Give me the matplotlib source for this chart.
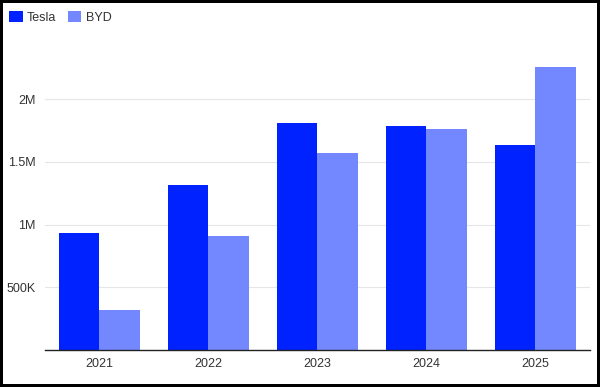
import numpy as np
import matplotlib.pyplot as plt
from matplotlib.ticker import FuncFormatter

plt.rcParams['font.family'] = ['Liberation Sans', 'DejaVu Sans']

# deliveries per year
years = ['2021', '2022', '2023', '2024', '2025']
tesla = [936000, 1313000, 1809000, 1789000, 1636000]
byd = [320000, 911000, 1574000, 1765000, 2257000]

tesla_color = '#0022ff'
byd_color = '#7388ff'
text_color = '#333333'

fig = plt.figure(figsize=(6, 3.87), dpi=100)
fig.patch.set_edgecolor('black')
fig.patch.set_linewidth(3)

ax = fig.add_axes([0.075, 0.0956, 0.908, 0.778])

x = np.arange(len(years))
w = 0.37
ax.bar(x - w / 2, tesla, width=w, color=tesla_color, label='Tesla')
ax.bar(x + w / 2, byd, width=w, color=byd_color, label='BYD')

ax.set_xlim(-0.5, len(years) - 0.5)
ax.set_ylim(0, 2400000)
ax.set_xticks(x)
ax.set_xticklabels(years)
ax.set_yticks([500000, 1000000, 1500000, 2000000])


def fmt(v, pos):
    if v >= 1000000:
        s = f'{v / 1000000:g}M'
    else:
        s = f'{v / 1000:g}K'
    return s


ax.yaxis.set_major_formatter(FuncFormatter(fmt))
ax.tick_params(axis='both', length=0, labelsize=9, colors=text_color)
ax.tick_params(axis='x', pad=6)
ax.tick_params(axis='y', pad=7)

ax.grid(axis='y', color='#e6e6e6', linewidth=0.8)
ax.set_axisbelow(True)
for side in ['top', 'right', 'left']:
    ax.spines[side].set_visible(False)
ax.spines['bottom'].set_color('#222222')
ax.spines['bottom'].set_linewidth(1.0)

leg = fig.legend(loc='upper left', bbox_to_anchor=(-0.004, 1.0), ncol=2, frameon=False,
                 fontsize=9, handlelength=1.1, handleheight=0.9, handletextpad=0.35,
                 columnspacing=0.9)
for t in leg.get_texts():
    t.set_color(text_color)

plt.savefig('out.png', dpi=100)
